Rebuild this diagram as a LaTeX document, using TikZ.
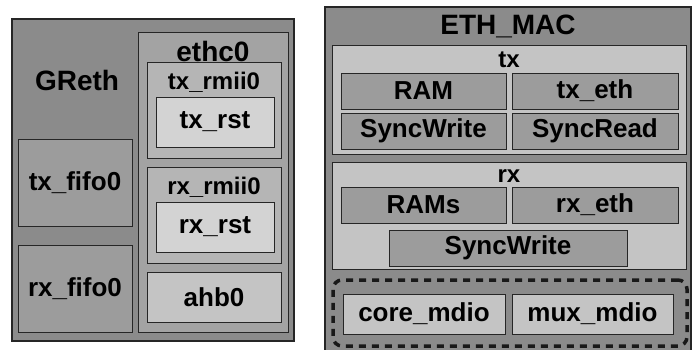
\documentclass[tikz,border=0pt]{standalone}
\usepackage{fontspec}
\setmainfont{Liberation Sans}
\usetikzlibrary{positioning}

\definecolor{gdark}{HTML}{8B8B8B}
\definecolor{gmid}{HTML}{9C9C9C}
\definecolor{gethc}{HTML}{A3A3A3}
\definecolor{grmii}{HTML}{B5B5B5}
\definecolor{glight}{HTML}{C4C4C4}
\definecolor{gpale}{HTML}{D3D3D3}

\begin{document}
\begin{tikzpicture}[x=1pt, y=-1pt,
  box/.style={draw=black!85, line width=0.8pt, inner sep=0pt},
  txt/.style={inner sep=0pt, font=\fontsize{26}{28}\selectfont\bfseries},
  sub/.style={inner sep=0pt, font=\fontsize{24}{26}\selectfont\bfseries},
  ttl/.style={inner sep=0pt, font=\fontsize{28}{30}\selectfont\bfseries}]
  \useasboundingbox (0,0) rectangle (698,349);
  \clip (0,0) rectangle (698,349);
  \fill [white] (0,0) rectangle (698,349);

  % left: GReth
  \node [box, fill=gdark, line width=1.2pt, minimum width=282, minimum height=322] at (153,180) (GR) {};
  \node [ttl] at (77,80) (GRt) {GReth};
  \node [box, fill=gmid, minimum width=114, minimum height=87] at (75,182.5) (TF) {};
  \node [txt] at (TF) (TFt) {tx\_fifo0};
  \node [box, fill=gmid, minimum width=114, minimum height=87] at (75,288.5) (RF) {};
  \node [txt] at (RF) (RFt) {rx\_fifo0};

  \node [box, fill=gethc, minimum width=150, minimum height=300] at (213,182) (E) {};
  \node [ttl] at (213,51) (Et) {ethc0};
  \node [box, fill=grmii, minimum width=134, minimum height=96] at (214,110) (TR) {};
  \node [sub] at (214,82) (TRt) {tx\_rmii0};
  \node [box, fill=gpale, minimum width=118, minimum height=50] at (215,122) (TS) {};
  \node [txt] at (TS) (TSt) {tx\_rst};
  \node [box, fill=grmii, minimum width=134, minimum height=96] at (214,215) (RR) {};
  \node [sub] at (214,187) (RRt) {rx\_rmii0};
  \node [box, fill=gpale, minimum width=118, minimum height=50] at (215,227) (RS) {};
  \node [txt] at (RS) (RSt) {rx\_rst};
  \node [box, fill=glight, minimum width=134, minimum height=50] at (214,297) (A) {};
  \node [txt] at (A) (At) {ahb0};

  % right: ETH_MAC
  \node [box, fill=gdark, line width=1.2pt, minimum width=366, minimum height=353] at (508,183.5) (M) {};
  \node [ttl] at (508,26) (Mt) {ETH\_MAC};

  \node [box, fill=glight, minimum width=354, minimum height=109] at (509,99.5) (TX) {};
  \node [sub] at (509,60) (TXt) {tx};
  \node [box, fill=gmid, minimum width=165, minimum height=36] at (423.5,91) (RAM) {};
  \node [txt] at (RAM) (RAMt) {RAM};
  \node [box, fill=gmid, minimum width=166, minimum height=36] at (595,91) (TE) {};
  \node [txt] at (TE) (TEt) {tx\_eth};
  \node [box, fill=gmid, minimum width=165, minimum height=36] at (423.5,131) (SW) {};
  \node [txt] at (SW) (SWt) {SyncWrite};
  \node [box, fill=gmid, minimum width=166, minimum height=36] at (595,131) (SR) {};
  \node [txt] at (SR) (SRt) {SyncRead};

  \node [box, fill=glight, minimum width=354, minimum height=107] at (509,215.5) (RX) {};
  \node [sub] at (509,176) (RXt) {rx};
  \node [box, fill=gmid, minimum width=165, minimum height=36] at (423.5,205) (RAMs) {};
  \node [txt] at (RAMs) (RAMst) {RAMs};
  \node [box, fill=gmid, minimum width=166, minimum height=36] at (595,205) (RE) {};
  \node [txt] at (RE) (REt) {rx\_eth};
  \node [box, fill=gmid, minimum width=238, minimum height=36] at (508,248) (SW2) {};
  \node [txt] at (SW2) (SW2t) {SyncWrite};

  \node [draw=black!90, dashed, dash pattern=on 7pt off 6pt, line width=3.5pt, rounded corners=9pt,
         inner sep=0pt, minimum width=354, minimum height=66] at (510,313) (MD) {};
  \node [box, fill=glight, minimum width=162, minimum height=40] at (424,314) (CM) {};
  \node [txt] at (CM) (CMt) {core\_mdio};
  \node [box, fill=glight, minimum width=161, minimum height=40] at (592.5,314) (MX) {};
  \node [txt] at (MX) (MXt) {mux\_mdio};
\end{tikzpicture}
\end{document}
